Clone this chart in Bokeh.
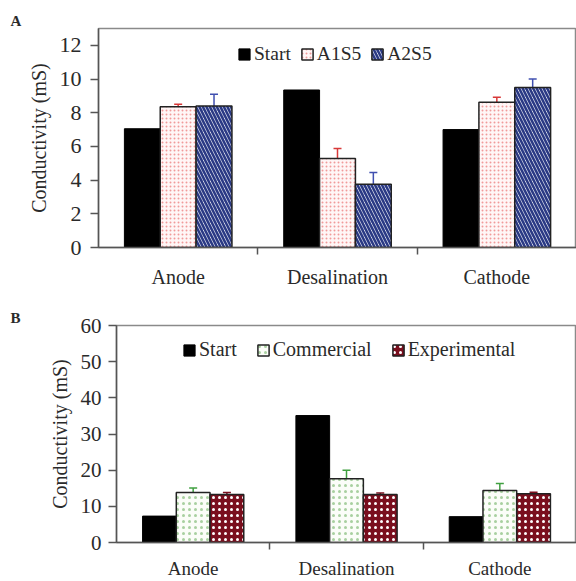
from bokeh.plotting import figure
from bokeh.layouts import column
from bokeh.models import (ColumnDataSource, FixedTicker, Whisker, TeeHead,
                          Legend, LegendItem, Title, Range1d)
from bokeh.embed import file_html
from bokeh.resources import INLINE

# ---------------- data ----------------
categories = ["Anode", "Desalination", "Cathode"]

a_series = ["Start", "A1S5", "A2S5"]
a_start = [7.05, 9.35, 7.0]
a_a1s5 = [8.35, 5.28, 8.62]
a_a1s5_err = [0.15, 0.6, 0.3]
a_a2s5 = [8.4, 3.75, 9.5]
a_a2s5_err = [0.7, 0.7, 0.5]
a_yticks = [0, 2, 4, 6, 8, 10, 12]

b_series = ["Start", "Commercial", "Experimental"]
b_start = [7.3, 35.1, 7.15]
b_comm = [13.8, 17.6, 14.4]
b_comm_err = [1.3, 2.4, 1.9]
b_exp = [13.3, 13.3, 13.5]
b_exp_err = [0.5, 0.4, 0.4]
b_yticks = [0, 10, 20, 30, 40, 50, 60]

y_label = "Conductivity (mS)"

FONT = "Liberation Serif"
TXT = "#2a2a2a"
AX = "#555555"

centers = [i + 0.5 for i in range(len(categories))]


def make_panel(letter, width, height, left, top, bottom, ymax, yticks,
               series, vals, errs, styles, err_colors, bw, tick_fs, cat_fs,
               leg_fs, leg_loc, leg_spacing, letter_offset, label_fs,
               ylab_standoff, cat_standoff, tick_standoff):
    p = figure(width=width, height=height, output_backend="svg",
               toolbar_location=None, x_range=Range1d(0, 3),
               y_range=Range1d(0, ymax), min_border_left=left,
               min_border_right=0, min_border_top=top,
               min_border_bottom=bottom, frame_align=False)
    p.grid.visible = False
    p.outline_line_color = "#8a8a8a"
    p.outline_line_width = 1.5
    p.background_fill_color = "white"
    p.border_fill_color = "white"

    offsets = [-bw, 0.0, bw]
    items = []
    for k, name in enumerate(series):
        xs = [c + offsets[k] for c in centers]
        src = ColumnDataSource(dict(x=xs, top=vals[k]))
        r = p.vbar(x="x", top="top", width=bw, source=src, **styles[k])
        items.append(LegendItem(label=name, renderers=[r]))
        if errs[k] is not None:
            up = [v + e for v, e in zip(vals[k], errs[k])]
            lo = [v - e for v, e in zip(vals[k], errs[k])]
            esrc = ColumnDataSource(dict(x=xs, upper=up, lower=lo))
            w = Whisker(base="x", upper="upper", lower="lower", source=esrc,
                        line_color=err_colors[k], line_width=1.5,
                        upper_head=TeeHead(size=8, line_color=err_colors[k], line_width=1.5),
                        lower_head=TeeHead(size=8, line_color=err_colors[k], line_width=1.5))
            p.add_layout(w)

    # y axis
    ya = p.yaxis[0]
    ya.ticker = FixedTicker(ticks=yticks)
    ya.minor_tick_line_color = None
    ya.major_tick_in = 0
    ya.major_tick_out = 8
    ya.axis_line_color = AX
    ya.axis_line_width = 1.5
    ya.major_tick_line_color = AX
    ya.major_tick_line_width = 1.5
    ya.major_label_text_font = FONT
    ya.major_label_text_font_size = tick_fs
    ya.major_label_text_color = TXT
    ya.major_label_standoff = tick_standoff
    ya.axis_label = y_label
    ya.axis_label_text_font = FONT
    ya.axis_label_text_font_style = "normal"
    ya.axis_label_text_font_size = label_fs
    ya.axis_label_text_color = TXT
    ya.axis_label_standoff = ylab_standoff

    # x axis: labels at centers, ticks between categories
    xa = p.xaxis[0]
    xa.ticker = FixedTicker(ticks=centers, minor_ticks=[1, 2])
    xa.major_label_overrides = {c: n for c, n in zip(centers, categories)}
    xa.major_tick_line_color = None
    xa.minor_tick_line_color = AX
    xa.minor_tick_line_width = 1.5
    xa.minor_tick_in = 0
    xa.minor_tick_out = 7
    xa.axis_line_color = AX
    xa.axis_line_width = 1.5
    xa.major_label_text_font = FONT
    xa.major_label_text_font_size = cat_fs
    xa.major_label_text_color = TXT
    xa.major_label_standoff = cat_standoff

    leg = Legend(items=items, orientation="horizontal", location=leg_loc,
                 border_line_color=None, background_fill_alpha=0,
                 padding=0, margin=0, spacing=leg_spacing,
                 glyph_width=14, glyph_height=14, label_standoff=3,
                 label_text_font=FONT, label_text_font_size=leg_fs,
                 label_text_color=TXT)
    p.add_layout(leg)

    p.add_layout(Title(text=letter, align="left", offset=letter_offset,
                       standoff=0, text_font=FONT, text_font_style="bold",
                       text_font_size="15px", text_color=TXT), "above")
    return p


start_style = dict(fill_color="black", line_color="black", line_width=1)

a_styles = [
    start_style,
    dict(fill_color="#fff6f6", line_color="#222", line_width=1.5,
         hatch_pattern=".", hatch_color="#f09a9a", hatch_scale=4, hatch_weight=1.2),
    dict(fill_color="white", line_color="#222", line_width=1.5,
         hatch_pattern="\\", hatch_color="#2b3a85", hatch_scale=7, hatch_weight=2.6),
]
b_styles = [
    start_style,
    dict(fill_color="#fbfdf8", line_color="#222", line_width=1.5,
         hatch_pattern=".", hatch_color="#a8d0a0", hatch_scale=6, hatch_weight=2),
    dict(fill_color="#7a0f1e", line_color="#222", line_width=1.5,
         hatch_pattern=".", hatch_color="white", hatch_scale=6, hatch_weight=3),
]

pA = make_panel("A", 576, 290, 98, 28, 42, 13, a_yticks, a_series,
                [a_start, a_a1s5, a_a2s5], [None, a_a1s5_err, a_a2s5_err],
                a_styles, [None, "#d83838", "#4050b0"], 0.225,
                "22px", "20px", "19.5px", (139, 182), 9, -88, "20px", 7, 11, 9)

pB = make_panel("B", 576, 291, 116, 35, 38, 60, b_yticks, b_series,
                [b_start, b_comm, b_exp], [None, b_comm_err, b_exp_err],
                b_styles, [None, "#40a040", "#7a0f1e"], 0.22,
                "21px", "19px", "20px", (66, 181), 19, -106, "20px", 7, 8, 7)

layout = column(pA, pB, spacing=0)
open("out.html", "w").write(file_html(layout, INLINE))
